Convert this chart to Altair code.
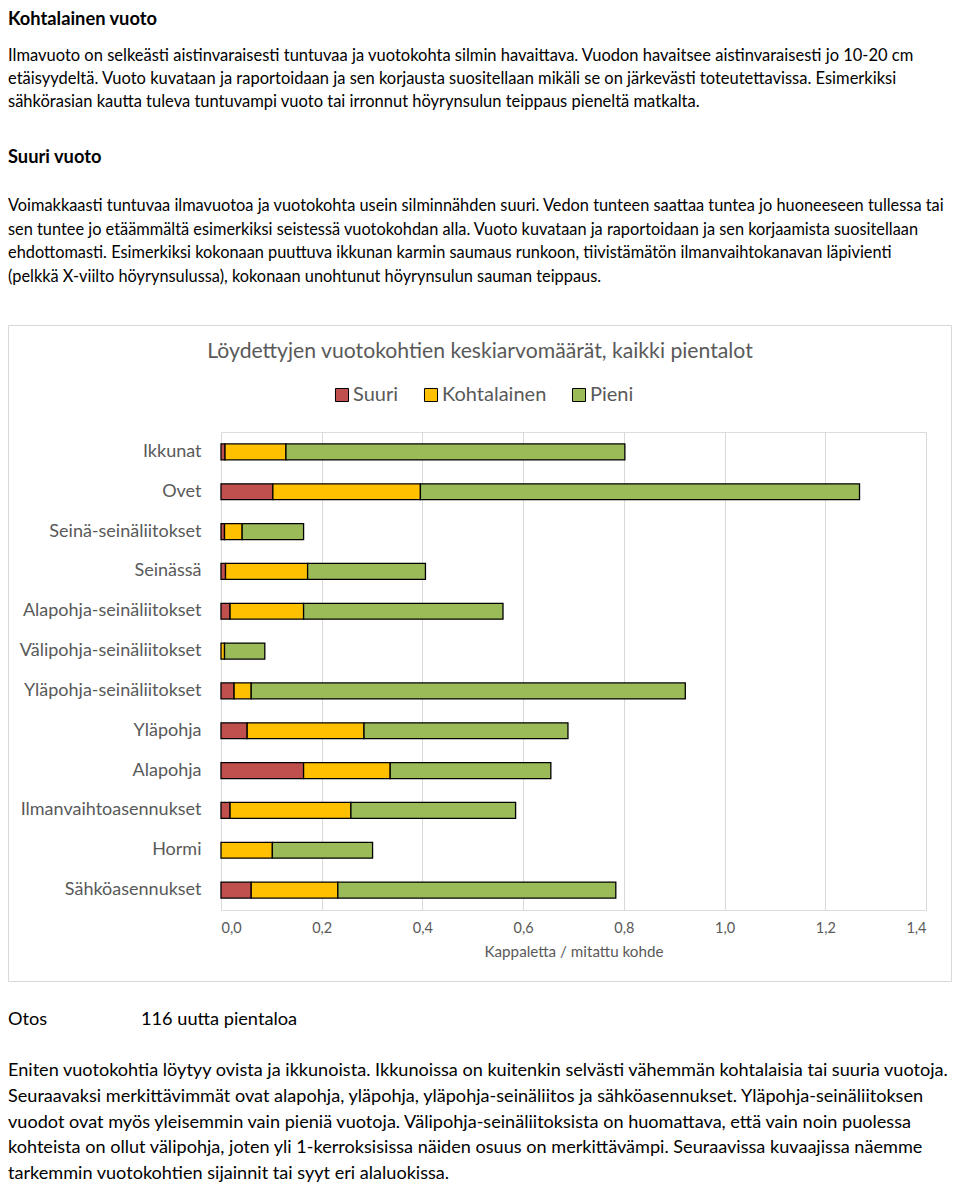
import altair as alt
import pandas as pd

# ---------------- data ----------------
categories = ["Ikkunat", "Ovet", "Seinä-seinäliitokset", "Seinässä",
              "Alapohja-seinäliitokset", "Välipohja-seinäliitokset",
              "Yläpohja-seinäliitokset", "Yläpohja", "Alapohja",
              "Ilmanvaihtoasennukset", "Hormi", "Sähköasennukset"]
suuri = [0.008, 0.103, 0.007, 0.009, 0.018, 0.0, 0.026, 0.052, 0.164, 0.018, 0.0, 0.060]
kohtalainen = [0.121, 0.293, 0.035, 0.163, 0.146, 0.007, 0.034, 0.232, 0.172, 0.240, 0.102, 0.172]
pieni = [0.673, 0.872, 0.122, 0.234, 0.396, 0.080, 0.862, 0.405, 0.319, 0.327, 0.199, 0.552]
series = ["Suuri", "Kohtalainen", "Pieni"]
series_colors = ["#C0504D", "#FFC000", "#9BBB59"]
x_ticks = [0.0, 0.2, 0.4, 0.6, 0.8, 1.0, 1.2, 1.4]

chart_title = "Löydettyjen vuotokohtien keskiarvomäärät, kaikki pientalot"
x_title = "Kappaletta / mitattu kohde"

heading1 = "Kohtalainen vuoto"
block1 = [
    "Ilmavuoto on selkeästi aistinvaraisesti tuntuvaa ja vuotokohta silmin havaittava. Vuodon havaitsee aistinvaraisesti jo 10-20 cm",
    "etäisyydeltä. Vuoto kuvataan ja raportoidaan ja sen korjausta suositellaan mikäli se on järkevästi toteutettavissa. Esimerkiksi",
    "sähkörasian kautta tuleva tuntuvampi vuoto tai irronnut höyrynsulun teippaus pieneltä matkalta.",
]
heading2 = "Suuri vuoto"
block2 = [
    "Voimakkaasti tuntuvaa ilmavuotoa ja vuotokohta usein silminnähden suuri. Vedon tunteen saattaa tuntea jo huoneeseen tullessa tai",
    "sen tuntee jo etäämmältä esimerkiksi seistessä vuotokohdan alla. Vuoto kuvataan ja raportoidaan ja sen korjaamista suositellaan",
    "ehdottomasti. Esimerkiksi kokonaan puuttuva ikkunan karmin saumaus runkoon, tiivistämätön ilmanvaihtokanavan läpivienti",
    "(pelkkä X-viilto höyrynsulussa), kokonaan unohtunut höyrynsulun sauman teippaus.",
]
otos_label = "Otos"
otos_value = "116 uutta pientaloa"
block3 = [
    "Eniten vuotokohtia löytyy ovista ja ikkunoista. Ikkunoissa on kuitenkin selvästi vähemmän kohtalaisia tai suuria vuotoja.",
    "Seuraavaksi merkittävimmät ovat alapohja, yläpohja, yläpohja-seinäliitos ja sähköasennukset. Yläpohja-seinäliitoksen",
    "vuodot ovat myös yleisemmin vain pieniä vuotoja. Välipohja-seinäliitoksista on huomattava, että vain noin puolessa",
    "kohteista on ollut välipohja, joten yli 1-kerroksisissa näiden osuus on merkittävämpi. Seuraavissa kuvaajissa näemme",
    "tarkemmin vuotokohtien sijainnit tai syyt eri alaluokissa.",
]

# ---------------- layout ----------------
FONT = "Lato"
GREY = "#595959"
PL, PT = 213, 424          # plot-area origin inside the chart (page = +8)
W, H = 705, 478
TOTAL_W, TOTAL_H = 944, 1178
LEFT = 8                   # page x where text starts


def px(x):  # page x -> plot coords
    return x - (PL + 8)


def py(y):  # page y -> plot coords
    return y - (PT + 8)


rows = []
for cat, s, k, p in zip(categories, suuri, kohtalainen, pieni):
    for i, (name, v) in enumerate(zip(series, [s, k, p])):
        if v > 0:
            rows.append({"kohde": cat, "sarja": name, "arvo": v, "jarjestys": i})
df = pd.DataFrame(rows)

one = pd.DataFrame({"a": [0]})


def text_line(txt, x, y, size, bold=False, color="black", align="left"):
    return alt.Chart(one).mark_text(
        text=txt, font=FONT, fontSize=size, fontWeight="bold" if bold else "normal",
        color=color, align=align, baseline="middle"
    ).encode(x=alt.value(px(x)), y=alt.value(py(y)))


layers = []

# frame around the chart (transparent fill so axes stay visible)
layers.append(
    alt.Chart(one).mark_rect(fillOpacity=0, stroke="#d9d9d9", strokeWidth=1).encode(
        x=alt.value(px(8.5)), x2=alt.value(px(951.5)), y=alt.value(py(325.5)), y2=alt.value(py(981.5))
    )
)

bars = alt.Chart(df).mark_bar(stroke="black", strokeWidth=1.3).encode(
    y=alt.Y("kohde:N", sort=categories,
            scale=alt.Scale(paddingInner=0.6, paddingOuter=0.3),
            axis=alt.Axis(title=None, domain=False, ticks=False, labelPadding=20,
                          labelFont=FONT, labelFontSize=18, labelColor=GREY, labelLimit=300)),
    x=alt.X("arvo:Q", stack="zero",
            scale=alt.Scale(domain=[0, 1.4], nice=False),
            axis=alt.Axis(values=x_ticks, title=x_title, domain=False, ticks=False,
                          grid=True, gridColor="#d9d9d9", gridWidth=1,
                          labelExpr="replace(format(datum.value, '.1f'), '.', ',')",
                          labelFont=FONT, labelFontSize=14.5, labelColor=GREY, labelPadding=11,
                          titleFont=FONT, titleFontSize=15.2, titleFontWeight="normal",
                          titleColor=GREY, titlePadding=10)),
    color=alt.Color("sarja:N", sort=series,
                    scale=alt.Scale(domain=series, range=series_colors),
                    legend=alt.Legend(orient="none", legendX=px(334) - 2, legendY=py(395) - 10,
                                      direction="horizontal", title=None,
                                      symbolType="square", symbolSize=170,
                                      symbolStrokeColor="black", symbolStrokeWidth=1,
                                      symbolOpacity=1,
                                      labelFont=FONT, labelFontSize=20, labelColor=GREY,
                                      labelOffset=1, columnPadding=22)),
    order=alt.Order("jarjestys:Q", sort="ascending"),
)
layers.append(bars)

layers.append(text_line(chart_title, 480, 352, 21.2, color=GREY, align="center"))

layers.append(text_line(heading1, LEFT, 20, 18.3, bold=True))
for i, t in enumerate(block1):
    layers.append(text_line(t, LEFT, 56 + i * 23, 16.5))
layers.append(text_line(heading2, LEFT, 158, 18.3, bold=True))
for i, t in enumerate(block2):
    layers.append(text_line(t, LEFT, 206 + i * 23.7, 16.35))
layers.append(text_line(otos_label, LEFT, 1020, 18.2))
layers.append(text_line(otos_value, 141, 1020, 18.2))
for i, t in enumerate(block3):
    layers.append(text_line(t, LEFT, 1071 + i * 25.75, 18.1))

chart = alt.layer(*layers).properties(
    width=W, height=H,
    autosize=alt.AutoSizeParams(type="none"),
    padding={"left": PL, "top": PT, "right": TOTAL_W - PL - W, "bottom": TOTAL_H - PT - H},
).configure_view(strokeWidth=0, stroke="transparent").configure(background="white")

chart.save("out.html", embed_options={"renderer": "svg", "actions": False})
